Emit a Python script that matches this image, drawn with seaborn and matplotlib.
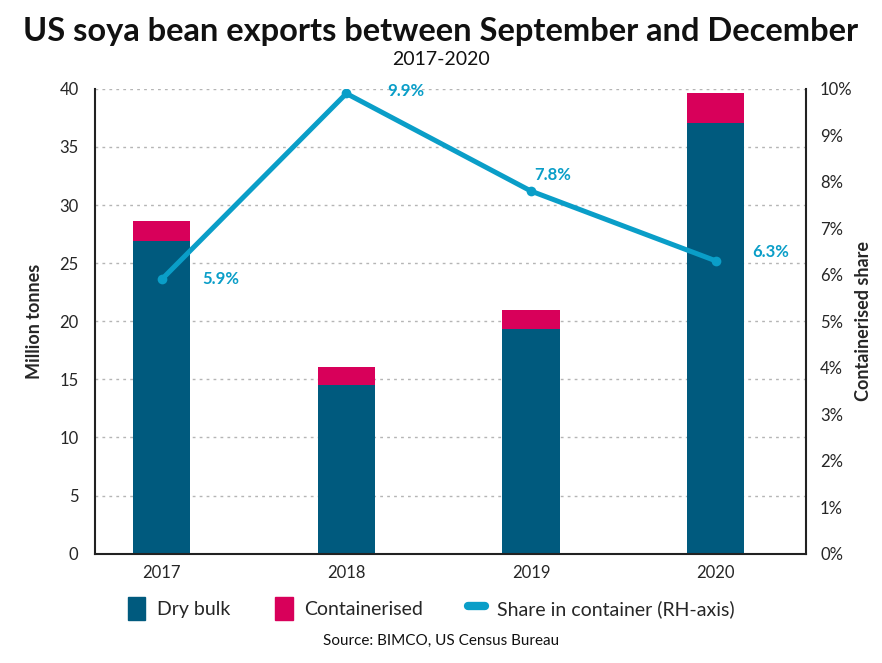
import numpy as np
import pandas as pd
import seaborn as sns
import matplotlib.pyplot as plt
from matplotlib.patches import Patch
from matplotlib.lines import Line2D
from matplotlib.ticker import FuncFormatter

sns.set_style("white")
plt.rcParams['font.family'] = ['Lato', 'DejaVu Sans']

years = ["2017", "2018", "2019", "2020"]
dry_bulk = [26.9, 14.5, 19.3, 37.1]
containerised = [1.7, 1.6, 1.65, 2.5]
share = [5.9, 9.9, 7.8, 6.3]
share_labels = ["5.9%", "9.9%", "7.8%", "6.3%"]

c_bulk = "#005a7e"
c_cont = "#d8005a"
c_line = "#0a9ec8"

df = pd.DataFrame({"year": years, "bulk": dry_bulk, "cont": containerised})
df["total"] = df["bulk"] + df["cont"]

fig = plt.figure(figsize=(8.82, 6.63), dpi=100)
ax = fig.add_axes([0.108, 0.165, 0.806, 0.701])

# stacked bars: draw total first in pink, then bulk on top
sns.barplot(data=df, x="year", y="total", color=c_cont, width=0.31,
            saturation=1, linewidth=0, ax=ax)
sns.barplot(data=df, x="year", y="bulk", color=c_bulk, width=0.31,
            saturation=1, linewidth=0, ax=ax)

ax.set_ylim(0, 40)
ax.set_xlim(-0.36, 3.49)
ax.set_yticks(range(0, 41, 5))
ax.yaxis.grid(True, linestyle=(0, (2, 3)), color="#b5b5b5", linewidth=1)
ax.set_axisbelow(True)
ax.set_xlabel("")
ax.set_ylabel("Million tonnes", fontsize=13, fontweight="bold", labelpad=12)
ax.tick_params(axis="both", labelsize=12, length=0)
ax.tick_params(axis="x", pad=8)
ax.tick_params(axis="y", pad=12)
for s in ["top", "right"]:
    ax.spines[s].set_visible(False)
ax.spines["left"].set_color("#222222")
ax.spines["bottom"].set_color("#222222")
ax.spines["left"].set_linewidth(1.5)
ax.spines["bottom"].set_linewidth(1.5)

ax2 = ax.twinx()
x = np.arange(len(years))
sns.lineplot(x=x, y=share, color=c_line, linewidth=3.6, marker="o",
             markersize=7, markeredgewidth=0, ax=ax2)
ax2.set_ylim(0, 10)
ax2.set_yticks(range(0, 11))
ax2.yaxis.set_major_formatter(FuncFormatter(lambda v, p: f"{int(v)}%"))
ax2.set_ylabel("Containerised share", fontsize=13, fontweight="bold",
               labelpad=2)
ax2.tick_params(axis="y", labelsize=12, length=0, pad=10)
for s in ["top", "left", "bottom"]:
    ax2.spines[s].set_visible(False)
ax2.spines["right"].set_color("#222222")
ax2.spines["right"].set_linewidth(1.5)

offsets = [(0.22, -0.0), (0.22, 0.05), (0.02, 0.35), (0.2, 0.2)]
for xi, yi, lab, (dx, dy) in zip(x, share, share_labels, offsets):
    ax2.text(xi + dx, yi + dy, lab, color=c_line, fontsize=12,
             fontweight="bold", ha="left", va="center")

fig.text(0.5, 0.953, "US soya bean exports between September and December",
         ha="center", va="center", fontsize=23.5, fontweight="bold",
         color="#111111")
fig.text(0.5, 0.91, "2017-2020", ha="center", va="center", fontsize=14,
         color="#111111")

handles = [
    Patch(color=c_bulk, label="Dry bulk"),
    Patch(color=c_cont, label="Containerised"),
    Line2D([0], [0], color=c_line, linewidth=6, solid_capstyle="round",
           label="Share in container (RH-axis)"),
]
fig.legend(handles=handles, loc="center", bbox_to_anchor=(0.489, 0.082),
           ncol=3, frameon=False, fontsize=14, handlelength=0.9,
           handleheight=1.4, columnspacing=2.3, handletextpad=0.6)
fig.text(0.5, 0.033, "Source: BIMCO, US Census Bureau", ha="center",
         va="center", fontsize=11, color="#111111")

fig.savefig("out.png", dpi=100)
